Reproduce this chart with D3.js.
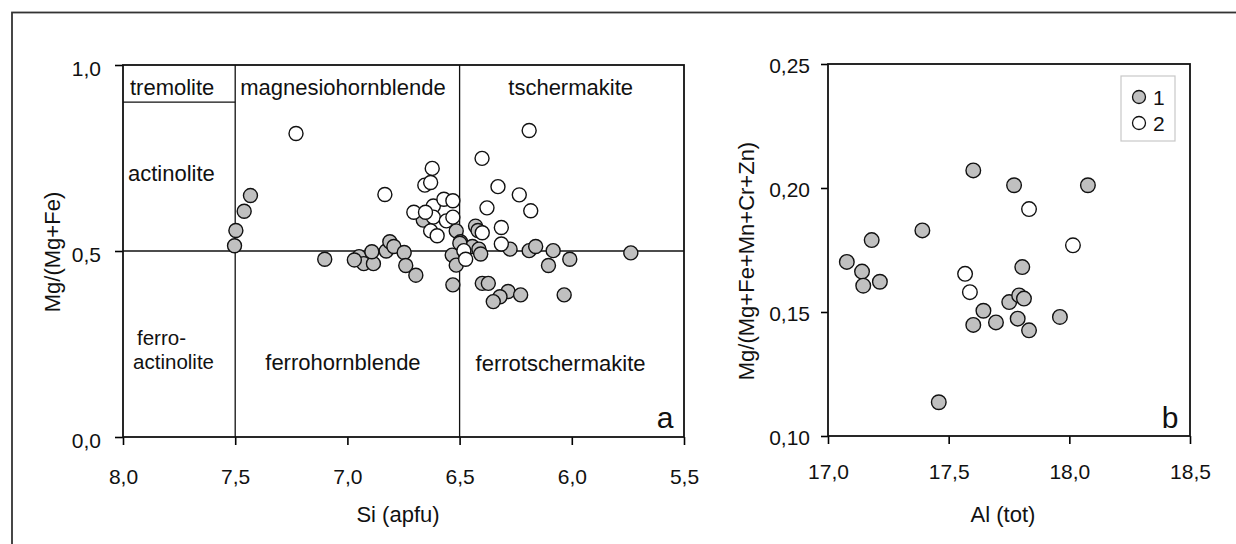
<!DOCTYPE html>
<html>
<head>
<meta charset="utf-8">
<script src="https://cdn.jsdelivr.net/npm/d3@7"></script>
<style>
  body { margin: 0; background: #fff; }
  svg text { font-family: "Liberation Sans", Arial, sans-serif; fill: #111; }
</style>
</head>
<body>
<div id="chart"></div>
<script>
// panel a: Si (apfu) vs Mg/(Mg+Fe)
var siGrey = [7.432, 7.460, 7.497, 7.503, 7.101, 6.948, 6.927, 6.884, 6.891, 6.969, 6.827, 6.811, 6.793, 6.747, 6.740, 6.695,
              6.662, 6.515, 6.496, 6.429, 6.418, 6.533, 6.515, 6.443, 6.414, 6.406, 6.530, 6.275, 6.190, 6.161, 6.083, 6.104,
              6.009, 5.737, 6.399, 6.372, 6.284, 6.320, 6.350, 6.228, 6.034, 6.499];
var mgGrey = [0.649, 0.607, 0.555, 0.514, 0.478, 0.485, 0.466, 0.466, 0.498, 0.476, 0.500, 0.525, 0.512, 0.496, 0.461, 0.435,
              0.583, 0.554, 0.525, 0.567, 0.555, 0.489, 0.462, 0.512, 0.505, 0.492, 0.409, 0.505, 0.501, 0.512, 0.501, 0.461,
              0.478, 0.495, 0.413, 0.413, 0.391, 0.377, 0.364, 0.382, 0.382, 0.521];
var siWhite = [7.229, 6.833, 6.704, 6.622, 6.655, 6.629, 6.617, 6.570, 6.530, 6.617, 6.559, 6.530, 6.629, 6.600, 6.652,
               6.399, 6.400, 6.190, 6.329, 6.234, 6.378, 6.183, 6.314, 6.314, 6.481, 6.473];
var mgWhite = [0.816, 0.652, 0.604, 0.722, 0.677, 0.684, 0.621, 0.639, 0.635, 0.591, 0.581, 0.591, 0.554, 0.541, 0.604,
               0.549, 0.749, 0.824, 0.673, 0.651, 0.616, 0.608, 0.563, 0.519, 0.501, 0.478];

// panel b: Al (tot) vs Mg/(Mg+Fe+Mn+Cr+Zn)
var alGrey = [17.602, 17.771, 18.077, 17.391, 17.181, 17.078, 17.141, 17.805, 17.215, 17.146, 17.644, 17.751, 17.792,
              17.812, 17.602, 17.696, 17.786, 17.833, 17.961, 17.459];
var mg2Grey = [0.2071, 0.2011, 0.2011, 0.1829, 0.1790, 0.1702, 0.1663, 0.1681, 0.1622, 0.1606, 0.1505, 0.1540, 0.1567,
               0.1554, 0.1448, 0.1458, 0.1473, 0.1426, 0.1480, 0.1136];
var alWhite = [17.833, 18.015, 17.568, 17.588];
var mg2White = [0.1915, 0.1769, 0.1654, 0.1580];

var siTicks = [8.0, 7.5, 7.0, 6.5, 6.0, 5.5];
var mgTicks = [0.0, 0.5, 1.0];
var alTicks = [17.0, 17.5, 18.0, 18.5];
var mg2Ticks = [0.10, 0.15, 0.20, 0.25];
var legendLabels = ["1", "2"];

var width = 1236, height = 544;
var grey = "#c0c0c0";

var svg = d3.select("#chart").append("svg")
    .attr("width", width)
    .attr("height", height);

// outer frame (runs off the right and bottom edges)
svg.append("rect")
    .attr("x", 12).attr("y", 12.5)
    .attr("width", 1400).attr("height", 700)
    .attr("fill", "none").attr("stroke", "#333").attr("stroke-width", 1.8);

var comma = d3.formatLocale({decimal: ",", thousands: ".", grouping: [3], currency: ["", ""]});

function zip(xs, ys) { return xs.map(function(x, i) { return [x, ys[i]]; }); }

// ---------- panel a ----------
var xa = d3.scaleLinear().domain([8.0, 5.5]).range([123, 684]);
var ya = d3.scaleLinear().domain([0, 1]).range([437, 65]);
var ga = svg.append("g");

// zone lines
var zones = [
  [[7.5, 0], [7.5, 1]],
  [[6.5, 0], [6.5, 1]],
  [[8.0, 0.5], [5.5, 0.5]],
  [[8.0, 0.9], [7.5, 0.9]]
];
ga.selectAll("line.zone").data(zones).enter().append("line")
    .attr("class", "zone")
    .attr("x1", function(d) { return xa(d[0][0]); })
    .attr("y1", function(d) { return ya(d[0][1]); })
    .attr("x2", function(d) { return xa(d[1][0]); })
    .attr("y2", function(d) { return ya(d[1][1]); })
    .attr("stroke", "#111").attr("stroke-width", 1.3);

// start x (Si) and baseline (Mg) of each zone name
var zoneLabels = [
  {t: "tremolite", x: 7.969, y: 0.919, s: 22},
  {t: "magnesiohornblende", x: 7.478, y: 0.919, s: 22},
  {t: "tschermakite", x: 6.283, y: 0.919, s: 22},
  {t: "actinolite", x: 7.978, y: 0.688, s: 22},
  {t: "ferro-", x: 7.9375, y: 0.247, s: 20.5},
  {t: "actinolite", x: 7.955, y: 0.183, s: 20.5},
  {t: "ferrohornblende", x: 7.366, y: 0.180, s: 22},
  {t: "ferrotschermakite", x: 6.429, y: 0.177, s: 22}
];
ga.selectAll("text.zl").data(zoneLabels).enter().append("text")
    .attr("class", "zl")
    .attr("x", function(d) { return xa(d.x); })
    .attr("y", function(d) { return ya(d.y); })
    .style("font-size", function(d) { return d.s + "px"; })
    .text(function(d) { return d.t; });

ga.append("g")
    .attr("transform", "translate(0,437)")
    .call(d3.axisBottom(xa).tickValues(siTicks).tickSize(8).tickPadding(24).tickFormat(comma.format(".1f")))
    .call(function(g) { g.select(".domain").remove(); })
    .call(function(g) { g.selectAll("text").style("font-size", "21px").attr("fill", "#111"); g.selectAll("line").attr("stroke-width", 1.6); });

ga.append("g")
    .attr("transform", "translate(123,0)")
    .call(d3.axisLeft(ya).tickValues(mgTicks).tickSize(8).tickPadding(14).tickFormat(comma.format(".1f")))
    .call(function(g) { g.select(".domain").remove(); })
    .call(function(g) { g.selectAll("text").style("font-size", "21px").attr("dy", "0.5em").attr("fill", "#111"); g.selectAll("line").attr("stroke-width", 1.6); });

ga.append("rect")
    .attr("x", xa(8.0)).attr("y", ya(1))
    .attr("width", xa(5.5) - xa(8.0)).attr("height", ya(0) - ya(1))
    .attr("fill", "none").attr("stroke", "#111").attr("stroke-width", 1.8);

ga.selectAll("circle.g").data(zip(siGrey, mgGrey)).enter().append("circle")
    .attr("class", "g")
    .attr("cx", function(d) { return xa(d[0]); })
    .attr("cy", function(d) { return ya(d[1]); })
    .attr("r", 7).attr("fill", grey).attr("stroke", "#111").attr("stroke-width", 1.4);

ga.selectAll("circle.w").data(zip(siWhite, mgWhite)).enter().append("circle")
    .attr("class", "w")
    .attr("cx", function(d) { return xa(d[0]); })
    .attr("cy", function(d) { return ya(d[1]); })
    .attr("r", 7).attr("fill", "#fff").attr("stroke", "#111").attr("stroke-width", 1.4);

ga.append("text").attr("x", 665).attr("y", 428).attr("text-anchor", "middle")
    .style("font-size", "30px").text("a");

ga.append("text").attr("x", 398).attr("y", 522).attr("text-anchor", "middle")
    .style("font-size", "22px").text("Si (apfu)");

ga.append("text").attr("transform", "translate(60,252) rotate(-90)").attr("text-anchor", "middle")
    .style("font-size", "22px").text("Mg/(Mg+Fe)");

// ---------- panel b ----------
var xb = d3.scaleLinear().domain([17.0, 18.5]).range([828, 1190]);
var yb = d3.scaleLinear().domain([0.10, 0.25]).range([436, 64]);
var gb = svg.append("g");

gb.append("g")
    .attr("transform", "translate(0,436)")
    .call(d3.axisBottom(xb).tickValues(alTicks).tickSize(8).tickPadding(20).tickFormat(comma.format(".1f")))
    .call(function(g) { g.select(".domain").remove(); })
    .call(function(g) { g.selectAll("text").style("font-size", "21px").attr("fill", "#111"); g.selectAll("line").attr("stroke-width", 1.6); });

gb.append("g")
    .attr("transform", "translate(828,0)")
    .call(d3.axisLeft(yb).tickValues(mg2Ticks).tickSize(7).tickPadding(11).tickFormat(comma.format(".2f")))
    .call(function(g) { g.select(".domain").remove(); })
    .call(function(g) { g.selectAll("text").style("font-size", "21px").attr("dy", "0.4em").attr("fill", "#111"); g.selectAll("line").attr("stroke-width", 1.6); });

gb.append("rect")
    .attr("x", xb(17.0)).attr("y", yb(0.25))
    .attr("width", xb(18.5) - xb(17.0)).attr("height", yb(0.10) - yb(0.25))
    .attr("fill", "none").attr("stroke", "#111").attr("stroke-width", 1.8);

gb.selectAll("circle.g").data(zip(alGrey, mg2Grey)).enter().append("circle")
    .attr("class", "g")
    .attr("cx", function(d) { return xb(d[0]); })
    .attr("cy", function(d) { return yb(d[1]); })
    .attr("r", 7.3).attr("fill", grey).attr("stroke", "#111").attr("stroke-width", 1.4);

gb.selectAll("circle.w").data(zip(alWhite, mg2White)).enter().append("circle")
    .attr("class", "w")
    .attr("cx", function(d) { return xb(d[0]); })
    .attr("cy", function(d) { return yb(d[1]); })
    .attr("r", 7.3).attr("fill", "#fff").attr("stroke", "#111").attr("stroke-width", 1.4);

// legend
var legend = gb.append("g").attr("transform", "translate(1121,76)");
legend.append("rect").attr("width", 54).attr("height", 65)
    .attr("fill", "#fff").attr("stroke", "#c8c8c8").attr("stroke-width", 1.2);
var items = legend.selectAll("g.item").data(legendLabels).enter().append("g")
    .attr("class", "item")
    .attr("transform", function(d, i) { return "translate(0," + (21 + i * 26) + ")"; });
items.append("circle").attr("cx", 18).attr("cy", 0).attr("r", 6.5)
    .attr("fill", function(d, i) { return i === 0 ? grey : "#fff"; })
    .attr("stroke", "#111").attr("stroke-width", 1.3);
items.append("text").attr("x", 32).attr("y", 7.5).style("font-size", "21px")
    .text(function(d) { return d; });

gb.append("text").attr("x", 1170).attr("y", 428).attr("text-anchor", "middle")
    .style("font-size", "30px").text("b");

gb.append("text").attr("x", 1003).attr("y", 522).attr("text-anchor", "middle")
    .style("font-size", "22px").text("Al (tot)");

gb.append("text").attr("transform", "translate(754,261) rotate(-90)").attr("text-anchor", "middle")
    .style("font-size", "22px").text("Mg/(Mg+Fe+Mn+Cr+Zn)");
</script>
</body>
</html>
